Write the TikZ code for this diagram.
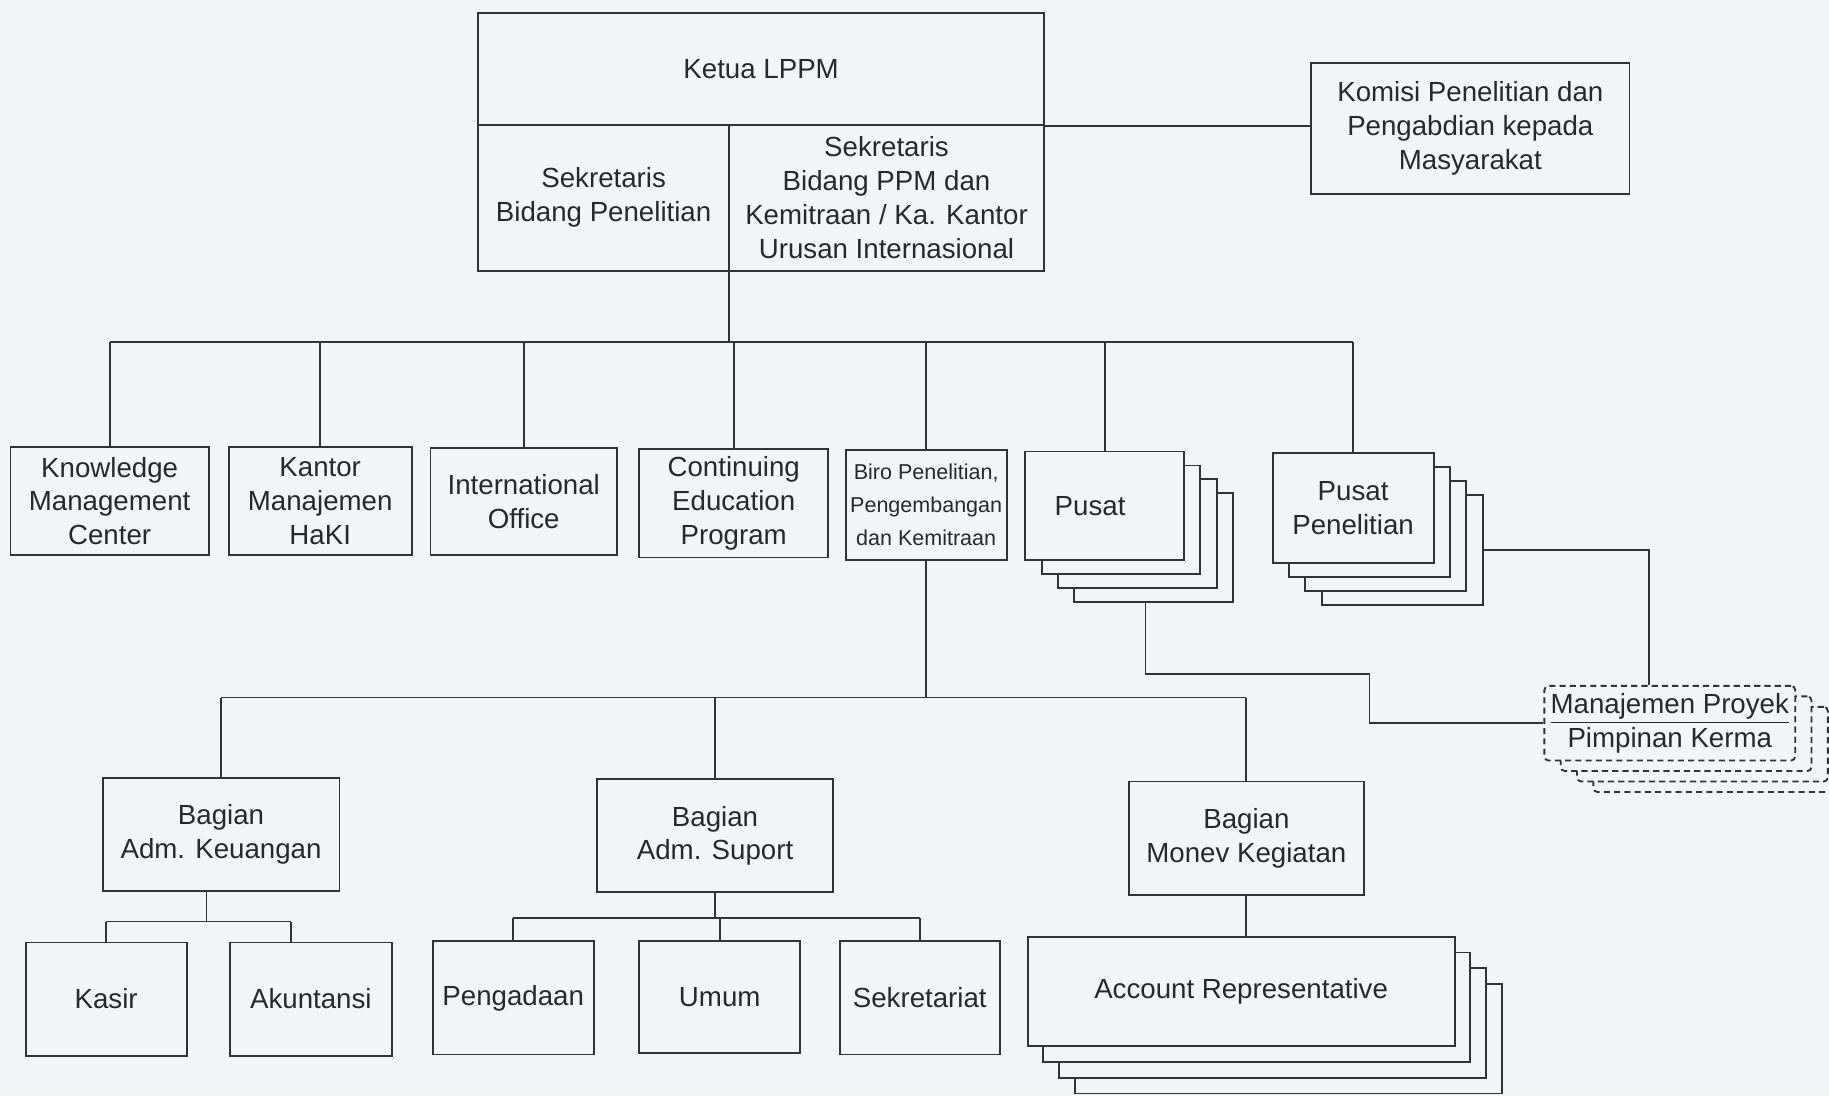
\documentclass[tikz,border=0pt]{standalone}
\usepackage{fontspec}
\setmainfont{Liberation Sans}
\definecolor{bgc}{RGB}{243,244,248}
\definecolor{linec}{RGB}{50,50,55}
\definecolor{txtc}{RGB}{40,40,45}
\begin{document}
\begin{tikzpicture}[x=0.02cm,y=-0.02cm,
    box/.style={draw=linec,fill=bgc,text=txtc,align=center,inner sep=0pt,line width=0.9pt,font=\fontsize{13.5}{16.5}\selectfont},
    sz/.style 2 args={minimum width=#1*0.02cm,minimum height=#2*0.02cm},
    dbox/.style={box,dash pattern=on 3pt off 2pt,rounded corners=2pt},
    small/.style={font=\fontsize{10.5}{16}\selectfont},
    wire/.style={draw=linec,line width=0.9pt}]
    \path[use as bounding box,fill=bgc] (0,0) rectangle (1568,940);
    \node[box,sz={485}{96}] (ketua) at (652.5,59) {Ketua LPPM};
    \node[box,sz={215}{125}] (sekpen) at (517.5,169.5) {Sekretaris\\Bidang Penelitian};
    \node[box,sz={270}{125}] (sekppm) at (760,169.5) {Sekretaris\\Bidang PPM dan\\Kemitraan / Ka. Kantor\\Urusan Internasional};
    \node[box,sz={273}{112}] (komisi) at (1260.5,110) {Komisi Penelitian dan\\Pengabdian kepada\\Masyarakat};
    \node[box,sz={170}{93}] (kmc) at (94,429.5) {Knowledge\\Management\\Center};
    \node[box,sz={157}{93}] (kmh) at (274.5,429.5) {Kantor\\Manajemen\\HaKI};
    \node[box,sz={160}{92}] (io) at (449,430) {International\\Office};
    \node[box,sz={162}{93}] (cep) at (629,431.5) {Continuing\\Education\\Program};
    \node[box,small,sz={138}{94}] (biro) at (794,433) {Biro Penelitian,\\Pengembangan\\dan Kemitraan};
    \foreach \k in {3,2,1} {
        \node[box,sz={136}{93}] (pusat\k) at (947+14*\k,433.5+12*\k) {};
        \node[box,sz={138}{95}] (pp\k) at (1160+14*\k,435.5+12*\k) {};
        \node[box,sz={366}{94}] (ar\k) at (1064+13.5*\k,850+13.5*\k) {};
        \node[dbox,sz={215}{64}] (mp\k) at (1431.5+14*\k,620+9*\k) {};
    }
    \node[box,sz={136}{93}] (pusat) at (947,433.5) {\hspace*{-0.5cm}Pusat};
    \node[box,sz={138}{95}] (pp) at (1160,435.5) {Pusat\\Penelitian};
    \node[box,sz={366}{94}] (ar) at (1064,850) {Account Representative};
    \node[dbox,sz={215}{64}] (mp) at (1431.5,620) {\underline{Manajemen Proyek}\\Pimpinan Kerma};
    \node[box,sz={203}{97}] (bak) at (189.5,715.5) {Bagian\\Adm. Keuangan};
    \node[box,sz={202}{97}] (bas) at (613,716.5) {Bagian\\Adm. Suport};
    \node[box,sz={201}{97}] (bmk) at (1068.5,718.5) {Bagian\\Monev Kegiatan};
    \node[box,sz={138}{97}] (kasir) at (91,856.5) {Kasir};
    \node[box,sz={139}{97}] (akun) at (266.5,856.5) {Akuntansi};
    \node[box,sz={138}{97}] (peng) at (440,855.5) {Pengadaan};
    \node[box,sz={138}{96}] (umum) at (617,855) {Umum};
    \node[box,sz={137}{97}] (sek) at (788.5,855.5) {Sekretariat};
    \draw[wire] (ketua.south east) -- (ketua.south east -| komisi.west);
    \coordinate (bus1) at (625,293);
    \draw[wire] (bus1 |- sekpen.south) -- (bus1);
    \draw[wire] (bus1 -| kmc.north) -- (bus1 -| pp.north);
    \foreach \n in {kmc,kmh,io,cep,biro,pusat,pp}
        \draw[wire] (bus1 -| \n.north) -- (\n.north);
    \coordinate (bus2) at (794,598);
    \draw[wire] (biro.south) -- (bus2);
    \draw[wire] (bus2 -| bak.north) -- (bus2 -| bmk.north);
    \foreach \n in {bak,bas,bmk}
        \draw[wire] (bus2 -| \n.north) -- (\n.north);
    \coordinate (bus3) at (177,790);
    \coordinate (akunin) at ([xshift=-0.34cm]akun.north);
    \draw[wire] (bak.south -| bus3) -- (bus3);
    \draw[wire] (bus3 -| kasir.north) -- (bus3 -| akunin);
    \foreach \n in {kasir.north,akunin}
        \draw[wire] (bus3 -| \n) -- (\n);
    \coordinate (bus4) at (613,787);
    \draw[wire] (bas.south) -- (bus4);
    \draw[wire] (bus4 -| peng.north) -- (bus4 -| sek.north);
    \foreach \n in {peng,umum,sek}
        \draw[wire] (bus4 -| \n.north) -- (\n.north);
    \draw[wire] (bmk.south) -- (bmk.south |- ar.north);
    \coordinate (pbend) at (1174,578);
    \draw[wire] ([xshift=-0.14cm]pusat3.south) |- (pbend) |- (mp.west);
    \draw[wire] (pp3.east) -| ([xshift=-0.35cm]mp.north);
\end{tikzpicture}
\end{document}
